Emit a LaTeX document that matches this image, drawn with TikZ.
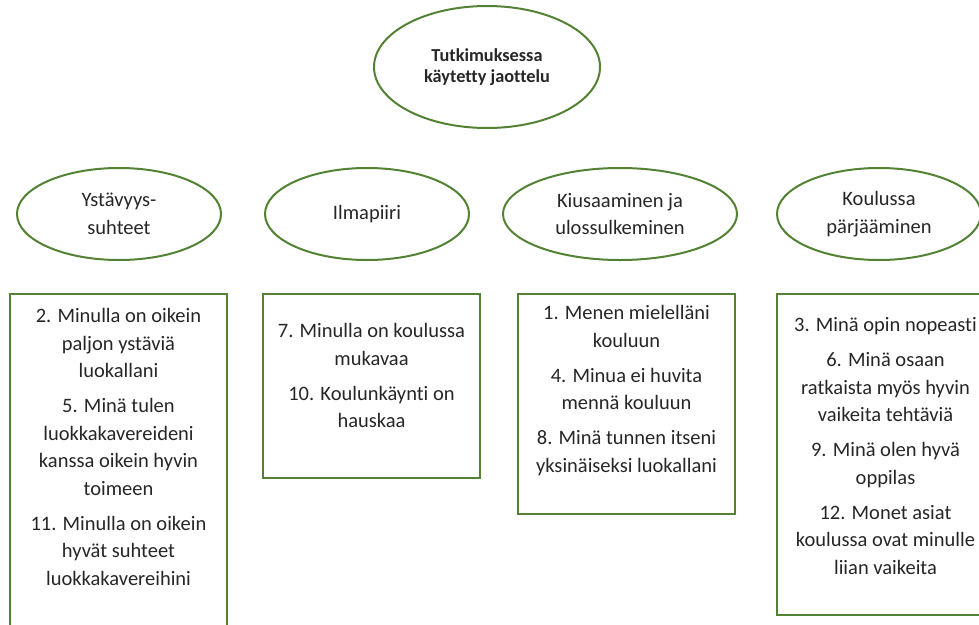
\documentclass[tikz,border=0pt]{standalone}
\usepackage{fontspec}
\setmainfont{Carlito}[Ligatures=NoCommon]
\usetikzlibrary{shapes.geometric,positioning}
\definecolor{kgreen}{HTML}{548235}
\definecolor{ktext}{HTML}{262626}
\begin{document}
\begin{tikzpicture}
        \tikzstyle{oval} = [ellipse, draw=kgreen, line width=2pt, minimum width=204pt, minimum height=92pt, inner sep=0pt, align=center, text=ktext, font=\fontsize{20.5}{27.5}\selectfont]
        \tikzstyle{box} = [rectangle, draw=kgreen, line width=2pt, minimum width=217pt, anchor=north]
        \tikzstyle{txt} = [inner sep=0pt, align=center, text=ktext, font=\fontsize{20.5}{27.5}\selectfont]

                \useasboundingbox (0,0) rectangle (979pt,-624pt);

                \node (jaottelu) [oval, minimum width=226pt, minimum height=122pt, font=\bfseries\fontsize{18.3}{21.5}\selectfont] at (487pt,-67pt) {Tutkimuksessa\\käytetty jaottelu};

                \node (ystavyys) [oval] at (119pt,-214pt) {Ystävyys-\\suhteet};
                \node (ilmapiiri) [oval, right of=ystavyys, node distance=248pt] {Ilmapiiri};
                \node (kiusaaminen) [oval, right of=ilmapiiri, node distance=253pt, minimum width=234pt] {Kiusaaminen ja\\ulossulkeminen};
                \node (koulussa) [oval, right of=kiusaaminen, node distance=259pt] {Koulussa\\pärjääminen};

                \node (b1) [box, minimum height=347pt] at (118.5pt,-293pt) {};
                \node (b2) [box, minimum height=184pt] at (371.5pt,-293pt) {};
                \node (b3) [box, minimum height=220pt] at (626.5pt,-293pt) {};
                \node (b4) [box, minimum height=321pt] at (885.5pt,-293pt) {};

                \node (q1) [txt, below=15.5pt of b1.north] {2. Minulla on oikein\\paljon ystäviä\\luokallani\\[7.5pt] 5. Minä tulen\\luokkakavereideni\\kanssa oikein hyvin\\toimeen\\[7.5pt] 11. Minulla on oikein\\hyvät suhteet\\luokkakavereihini};
                \node (q2) [txt, below=30.5pt of b2.north] {7. Minulla on koulussa\\mukavaa\\[7.5pt] 10. Koulunkäynti on\\hauskaa};
                \node (q3) [txt, below=12.5pt of b3.north] {1. Menen mielelläni\\kouluun\\[7.5pt] 4. Minua ei huvita\\mennä kouluun\\[7.5pt] 8. Minä tunnen itseni\\yksinäiseksi luokallani};
                \node (q4) [txt, below=24.5pt of b4.north] {3. Minä opin nopeasti\\[7.5pt] 6. Minä osaan\\ratkaista myös hyvin\\vaikeita tehtäviä\\[7.5pt] 9. Minä olen hyvä\\oppilas\\[7.5pt] 12. Monet asiat\\koulussa ovat minulle\\liian vaikeita};

    \end{tikzpicture}
\end{document}
